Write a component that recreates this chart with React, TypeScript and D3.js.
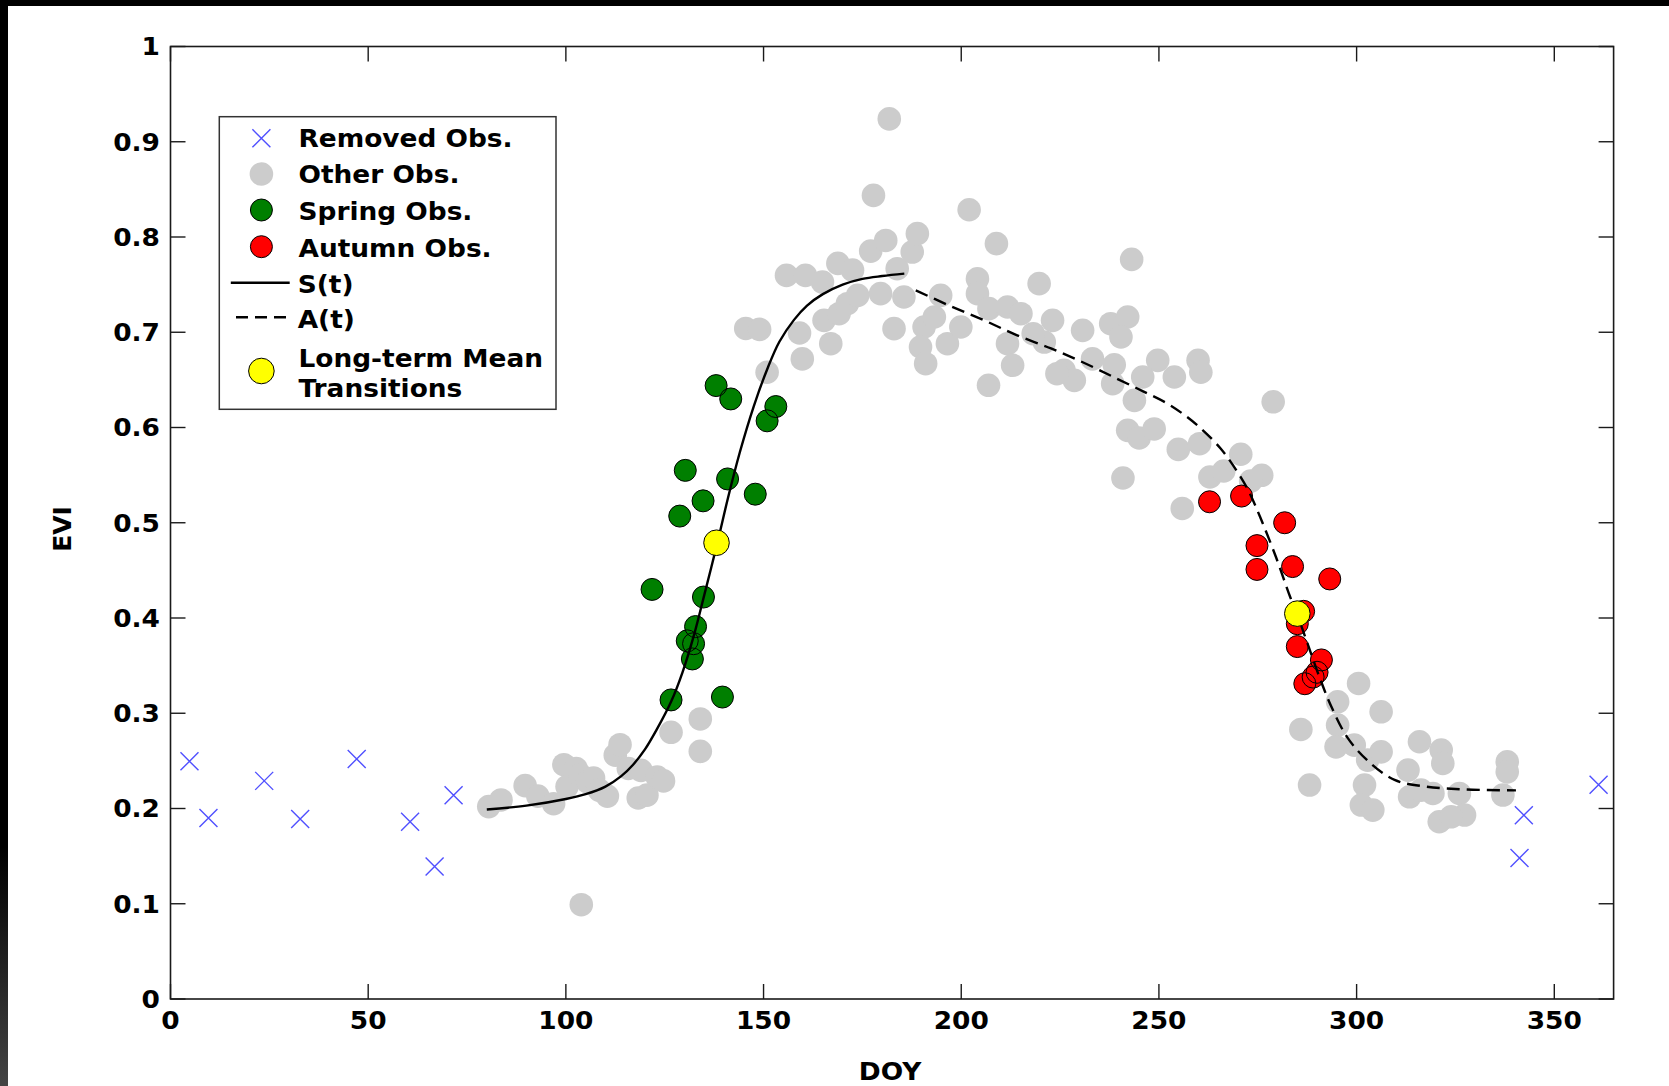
import React from 'react';
import * as d3 from 'd3';

// ---------- data (DOY, EVI) ----------
const removedObs: [number, number][] = [
  [4.8, 0.2495], [9.6, 0.19], [23.7, 0.229], [32.8, 0.189], [47.1, 0.252],
  [60.6, 0.186], [66.8, 0.139], [71.6, 0.214], [341.2, 0.148], [342.3, 0.193], [361.2, 0.225],
];

const otherObs: [number, number][] = [
  // early season
  [80.5, 0.202], [83.6, 0.209], [89.7, 0.224], [92.9, 0.213], [96.9, 0.205], [99.5, 0.246],
  [100.3, 0.223], [102.6, 0.242], [103.7, 0.235], [105.5, 0.228], [107.0, 0.232], [108.5, 0.219],
  [110.5, 0.213], [112.5, 0.256], [113.7, 0.267], [115.8, 0.242], [118.3, 0.211], [119.0, 0.24],
  [120.5, 0.214], [123.1, 0.233], [124.7, 0.229], [126.6, 0.28], [134.0, 0.294], [134.0, 0.26],
  [103.9, 0.099],
  // peak
  [145.5, 0.704], [149.0, 0.703], [150.9, 0.658], [159.8, 0.672], [167.0, 0.688], [165.3, 0.7125],
  [169.1, 0.7195], [171.2, 0.73], [173.8, 0.7387], [179.6, 0.7405], [185.5, 0.737], [183.0, 0.7038],
  [155.8, 0.7597], [160.6, 0.7597], [164.9, 0.7527], [168.8, 0.7723], [172.5, 0.7652], [183.8, 0.7667],
  [177.1, 0.7852], [180.9, 0.7964], [187.6, 0.7842], [188.9, 0.8035], [177.8, 0.8437], [181.8, 0.924],
  [159.1, 0.6992],
  // summer plateau
  [190.6, 0.7055], [189.7, 0.6845], [191.0, 0.667], [196.5, 0.688], [199.9, 0.7055], [204.1, 0.7562],
  [204.1, 0.7405], [194.8, 0.7387], [193.2, 0.716], [202.0, 0.8286], [208.9, 0.793], [207.0, 0.7248],
  [211.7, 0.7265], [215.1, 0.7195], [219.7, 0.751], [223.1, 0.7125], [211.7, 0.688], [213.0, 0.6653],
  [221.0, 0.6897], [206.9, 0.6443], [218.2, 0.6985], [230.7, 0.702], [226.0, 0.66], [228.6, 0.6495],
  [224.2, 0.6565], [233.2, 0.672], [237.8, 0.709], [242.1, 0.716], [240.4, 0.695], [238.7, 0.6658],
  [238.3, 0.646], [243.1, 0.7765],
  // late summer
  [249.7, 0.6705], [253.9, 0.653], [259.9, 0.6705], [260.6, 0.658], [245.9, 0.653], [243.8, 0.6285],
  [242.1, 0.597], [245.0, 0.589], [248.8, 0.5985], [254.9, 0.577], [260.3, 0.583], [270.7, 0.5719],
  [262.9, 0.548], [266.4, 0.5543], [276.0, 0.5498], [273.2, 0.5437], [240.9, 0.547], [255.9, 0.515],
  [278.9, 0.627],
  // dormancy
  [300.5, 0.3313], [295.2, 0.312], [306.2, 0.3015], [285.9, 0.283], [295.2, 0.2875], [294.8, 0.2647],
  [299.4, 0.2665], [302.8, 0.2508], [306.2, 0.2595], [288.1, 0.2246], [302.0, 0.2246], [301.2, 0.2036],
  [304.1, 0.1983], [313.0, 0.2403], [313.4, 0.2123], [315.9, 0.2701], [321.4, 0.2613], [321.8, 0.2473],
  [316.3, 0.2193], [319.3, 0.2158], [326.0, 0.2158], [320.9, 0.1861], [327.3, 0.1931], [323.9, 0.1913],
  [338.1, 0.249], [338.1, 0.2385], [337.0, 0.2141],
];

const springObs: [number, number][] = [
  [138.0, 0.644], [141.7, 0.63], [153.1, 0.622], [150.9, 0.607], [130.2, 0.555], [140.9, 0.546],
  [134.7, 0.523], [128.8, 0.507], [147.9, 0.53], [121.8, 0.43], [134.8, 0.422], [132.8, 0.391],
  [130.7, 0.376], [132.3, 0.373], [132.0, 0.357], [126.6, 0.314], [139.6, 0.317],
];

const autumnObs: [number, number][] = [
  [262.8, 0.522], [270.9, 0.528], [281.8, 0.5], [274.8, 0.476], [274.8, 0.451], [283.8, 0.454],
  [293.2, 0.441], [286.6, 0.407], [285.0, 0.394], [285.0, 0.37], [291.1, 0.356], [290.0, 0.343],
  [289.0, 0.338], [286.9, 0.331],
];

const meanTransitions: [number, number][] = [[138.1, 0.479], [285.0, 0.4046]];

const springCurve: [number, number][] = [
  [80, 0.199], [90, 0.203], [100, 0.21], [105, 0.215], [110, 0.223], [114, 0.234], [117, 0.246],
  [120, 0.262], [123, 0.283], [126.6, 0.312], [129.5, 0.343], [132.4, 0.382], [135, 0.424], [138.5, 0.482],
  [141, 0.526], [144, 0.574], [147.5, 0.622], [151, 0.662], [154, 0.69], [157.7, 0.713], [161, 0.728],
  [165, 0.74], [170, 0.75], [175, 0.756], [180, 0.759], [185.6, 0.7615],
];

const autumnCurve: [number, number][] = [
  [188.5, 0.744], [197, 0.728], [205.8, 0.7125], [214, 0.697], [222.7, 0.683], [231, 0.668],
  [239, 0.652], [246, 0.638], [252.2, 0.625], [256.5, 0.613], [260.6, 0.599], [265.6, 0.578],
  [269.6, 0.555], [272.6, 0.534], [275.6, 0.506], [279.6, 0.464], [283.2, 0.422], [285.3, 0.4],
  [287.6, 0.373], [290.6, 0.338], [293.6, 0.307], [297.6, 0.275], [302.6, 0.251], [309.6, 0.23],
  [317.6, 0.223], [327.6, 0.22], [340.3, 0.219],
];

const xTicks = [0, 50, 100, 150, 200, 250, 300, 350];
const yTicks = [0, 0.1, 0.2, 0.3, 0.4, 0.5, 0.6, 0.7, 0.8, 0.9, 1];
const yTickLabels = ['0', '0.1', '0.2', '0.3', '0.4', '0.5', '0.6', '0.7', '0.8', '0.9', '1'];

const legendItems = ['Removed Obs.', 'Other Obs.', 'Spring Obs.', 'Autumn Obs.', 'S(t)', 'A(t)'];
const legendLast = ['Long-term Mean', 'Transitions'];

// ---------- styling ----------
const FONT = '"DejaVu Sans", Verdana, sans-serif';
const W = 1669;
const H = 1086;
const BLUE = '#5050ff';
const GRAY = '#cccccc';
const GREEN = '#007f00';
const RED = '#ff0000';
const YELLOW = '#ffff00';

const Label = ({ x, y, anchor = 'start', size = 24, children }: any) => (
  <text
    transform={`translate(${x},${y}) scale(1.1,1)`}
    textAnchor={anchor}
    fontFamily={FONT}
    fontWeight="bold"
    fontSize={size}
    fill="#000"
  >
    {children}
  </text>
);

const Cross = ({ x, y, s = 9 }: any) => (
  <path d={`M${x - s},${y - s}L${x + s},${y + s}M${x - s},${y + s}L${x + s},${y - s}`} stroke={BLUE} strokeWidth={1.4} fill="none" />
);

export default function App() {
  const x = d3.scaleLinear().domain([0, 365]).range([170.5, 1613.6]);
  const y = d3.scaleLinear().domain([0, 1]).range([999, 46.5]);
  const [x0, x1] = x.range();
  const [y0, y1] = y.range();

  const line = d3
    .line<[number, number]>()
    .x((d) => x(d[0]))
    .y((d) => y(d[1]))
    .curve(d3.curveCatmullRom.alpha(0.5));

  const tickLen = 15;
  const lx = 261.4;

  return (
    <div style={{ position: 'fixed', left: 0, top: 0 }}>
      <svg width={W} height={H} viewBox={`0 0 ${W} ${H}`} style={{ display: 'block' }}>
        <defs>
          <linearGradient id="edge" x1="0" y1="0" x2="0" y2="1">
            <stop offset="0" stopColor="#000" />
            <stop offset="0.78" stopColor="#000" />
            <stop offset="1" stopColor="#444" />
          </linearGradient>
        </defs>
        <rect x={0} y={0} width={W} height={H} fill="#fff" />
        <rect x={0} y={0} width={W} height={6} fill="#000" />
        <rect x={0} y={0} width={8} height={H} fill="url(#edge)" />

        {/* removed observations */}
        {removedObs.map((d, i) => (
          <Cross key={`r${i}`} x={x(d[0])} y={y(d[1])} />
        ))}

        {/* other observations */}
        {otherObs.map((d, i) => (
          <circle key={`o${i}`} cx={x(d[0])} cy={y(d[1])} r={11.8} fill={GRAY} />
        ))}

        {/* spring observations: faces, then edges */}
        {springObs.map((d, i) => (
          <circle key={`sf${i}`} cx={x(d[0])} cy={y(d[1])} r={11} fill={GREEN} />
        ))}
        {springObs.map((d, i) => (
          <circle key={`se${i}`} cx={x(d[0])} cy={y(d[1])} r={11} fill="none" stroke="#000" strokeWidth={1} />
        ))}

        {/* autumn observations */}
        {autumnObs.map((d, i) => (
          <circle key={`af${i}`} cx={x(d[0])} cy={y(d[1])} r={11} fill={RED} />
        ))}
        {autumnObs.map((d, i) => (
          <circle key={`ae${i}`} cx={x(d[0])} cy={y(d[1])} r={11} fill="none" stroke="#000" strokeWidth={1} />
        ))}

        {/* fitted curves */}
        <path d={line(springCurve) || ''} fill="none" stroke="#000" strokeWidth={2.4} />
        <path d={line(autumnCurve) || ''} fill="none" stroke="#000" strokeWidth={2.4} strokeDasharray="13,7" />

        {/* long-term mean transitions */}
        {meanTransitions.map((d, i) => (
          <circle key={`m${i}`} cx={x(d[0])} cy={y(d[1])} r={12.8} fill={YELLOW} stroke="#000" strokeWidth={1} />
        ))}

        {/* axes box */}
        <rect x={x0} y={y1} width={x1 - x0} height={y0 - y1} fill="none" stroke="#1a1a1a" strokeWidth={1.6} />
        {xTicks.map((t) => (
          <g key={`xt${t}`}>
            <line x1={x(t)} x2={x(t)} y1={y0} y2={y0 - tickLen} stroke="#1a1a1a" strokeWidth={1.4} />
            <line x1={x(t)} x2={x(t)} y1={y1} y2={y1 + tickLen} stroke="#1a1a1a" strokeWidth={1.4} />
            <Label x={x(t)} y={1029} anchor="middle">{String(t)}</Label>
          </g>
        ))}
        {yTicks.map((t, i) => (
          <g key={`yt${i}`}>
            <line x1={x0} x2={x0 + tickLen} y1={y(t)} y2={y(t)} stroke="#1a1a1a" strokeWidth={1.4} />
            <line x1={x1} x2={x1 - tickLen} y1={y(t)} y2={y(t)} stroke="#1a1a1a" strokeWidth={1.4} />
            <Label x={160} y={y(t) + 8.8} anchor="end">{yTickLabels[i]}</Label>
          </g>
        ))}

        {/* axis titles */}
        <Label x={890} y={1080} anchor="middle">DOY</Label>
        <text
          transform={`translate(70.5,529) rotate(-90)`}
          textAnchor="middle"
          fontFamily={FONT}
          fontWeight="bold"
          fontSize={25}
        >
          EVI
        </text>

        {/* legend */}
        <rect x={219.3} y={116.7} width={336.7} height={292.6} fill="#fff" stroke="#333" strokeWidth={1.5} />
        <Cross x={lx} y={138.3} />
        <circle cx={lx} cy={174} r={11.8} fill={GRAY} />
        <circle cx={lx} cy={210} r={11} fill={GREEN} stroke="#000" strokeWidth={1} />
        <circle cx={lx} cy={246.7} r={11} fill={RED} stroke="#000" strokeWidth={1} />
        <line x1={230.8} x2={289.7} y1={282.7} y2={282.7} stroke="#000" strokeWidth={2.4} />
        <line x1={236} x2={289.7} y1={317.3} y2={317.3} stroke="#000" strokeWidth={2.4} strokeDasharray="12,7" />
        <circle cx={lx} cy={371} r={12.8} fill={YELLOW} stroke="#000" strokeWidth={1} />
        {legendItems.map((s, i) => (
          <Label key={s} x={i >= 4 ? 297.7 : 298.5} y={[147.3, 183.3, 220, 257.3, 293, 328][i]}>{s}</Label>
        ))}
        <Label x={298.5} y={366.5}>{legendLast[0]}</Label>
        <Label x={298.5} y={397.3}>{legendLast[1]}</Label>
      </svg>
    </div>
  );
}
